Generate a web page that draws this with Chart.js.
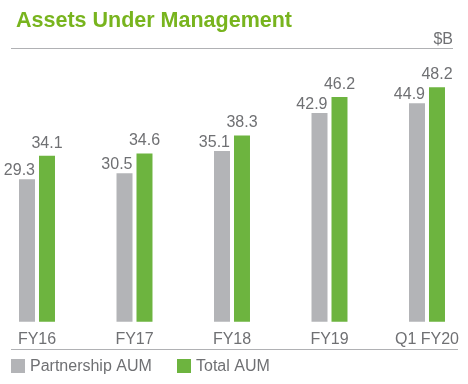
<!DOCTYPE html>
<html>
<head>
<meta charset="utf-8">
<script src="https://cdn.jsdelivr.net/npm/chart.js@4/dist/chart.umd.min.js"></script>
<style>
  html, body { margin: 0; padding: 0; background: #ffffff; }
  #wrap { width: 468px; height: 384px; position: relative; }
</style>
</head>
<body>
<div id="wrap"><canvas id="c" width="468" height="384"></canvas></div>
<script>
const titleText = "Assets Under Management";
const unitText = "$B";
const categories = ["FY16", "FY17", "FY18", "FY19", "Q1 FY20"];
const seriesNames = ["Partnership AUM", "Total AUM"];
const partnershipAUM = [29.3, 30.5, 35.1, 42.9, 44.9];
const totalAUM = [34.1, 34.6, 38.3, 46.2, 48.2];

const GRAY = "#b3b4b7";
const GREEN = "#6db43f";
const TEXT = "#6f7073";
const TITLE_GREEN = "#78b41e";
const RULE = "#b0b1b4";
const FONT = "'Liberation Sans', Arial, Helvetica, sans-serif";

const decorPlugin = {
  id: "decor",
  afterDraw(chart) {
    const ctx = chart.ctx;
    ctx.save();
    // title
    ctx.fillStyle = TITLE_GREEN;
    ctx.font = "bold 21.5px " + FONT;
    ctx.textAlign = "left";
    ctx.textBaseline = "alphabetic";
    ctx.fillText(titleText, 16, 27);
    // unit
    ctx.fillStyle = TEXT;
    ctx.font = "16px " + FONT;
    ctx.textAlign = "right";
    ctx.fillText(unitText, 453, 44);
    // rules
    ctx.strokeStyle = RULE;
    ctx.lineWidth = 1;
    ctx.beginPath();
    ctx.moveTo(11, 48.5); ctx.lineTo(453, 48.5);
    ctx.moveTo(11, 349.5); ctx.lineTo(458, 349.5);
    ctx.stroke();
    // legend
    ctx.font = "16px " + FONT;
    ctx.textAlign = "left";
    ctx.textBaseline = "middle";
    const items = chart.data.datasets;
    const xs = [11, 177];
    items.forEach((ds, i) => {
      ctx.fillStyle = ds.backgroundColor;
      ctx.fillRect(xs[i], 359, 14, 14);
      ctx.fillStyle = TEXT;
      ctx.fillText(ds.label, xs[i] + 19, 367);
    });
    ctx.restore();
  },
  afterDatasetsDraw(chart) {
    const ctx = chart.ctx;
    ctx.save();
    ctx.font = "16px " + FONT;
    ctx.fillStyle = TEXT;
    ctx.textBaseline = "alphabetic";
    chart.data.datasets.forEach((ds, di) => {
      const meta = chart.getDatasetMeta(di);
      meta.data.forEach((bar, i) => {
        const v = ds.data[i].toFixed(1);
        if (di === 0) {
          ctx.textAlign = "right";
          ctx.fillText(v, bar.x + bar.width / 2, bar.y - 4);
        } else {
          ctx.textAlign = "center";
          ctx.fillText(v, bar.x, bar.y - 8);
        }
      });
    });
    ctx.restore();
  }
};

new Chart(document.getElementById("c"), {
  type: "bar",
  data: {
    labels: categories,
    datasets: [
      { label: seriesNames[0], data: partnershipAUM, backgroundColor: GRAY, clip: false },
      { label: seriesNames[1], data: totalAUM, backgroundColor: GREEN, clip: false }
    ]
  },
  options: {
    responsive: false,
    animation: false,
    devicePixelRatio: 1,
    categoryPercentage: 0.41,
    barPercentage: 0.8,
    layout: { padding: { left: 37, right: 41, top: 59, bottom: 27 } },
    plugins: {
      legend: { display: false },
      title: { display: false },
      tooltip: { enabled: false }
    },
    scales: {
      x: {
        offset: false,
        grid: { display: false, drawTicks: false },
        border: { display: false },
        ticks: { color: TEXT, font: { family: FONT, size: 16 }, padding: 8, maxRotation: 0, autoSkip: false }
      },
      y: {
        display: false,
        min: 0,
        max: 54
      }
    }
  },
  plugins: [decorPlugin]
});
</script>
</body>
</html>
